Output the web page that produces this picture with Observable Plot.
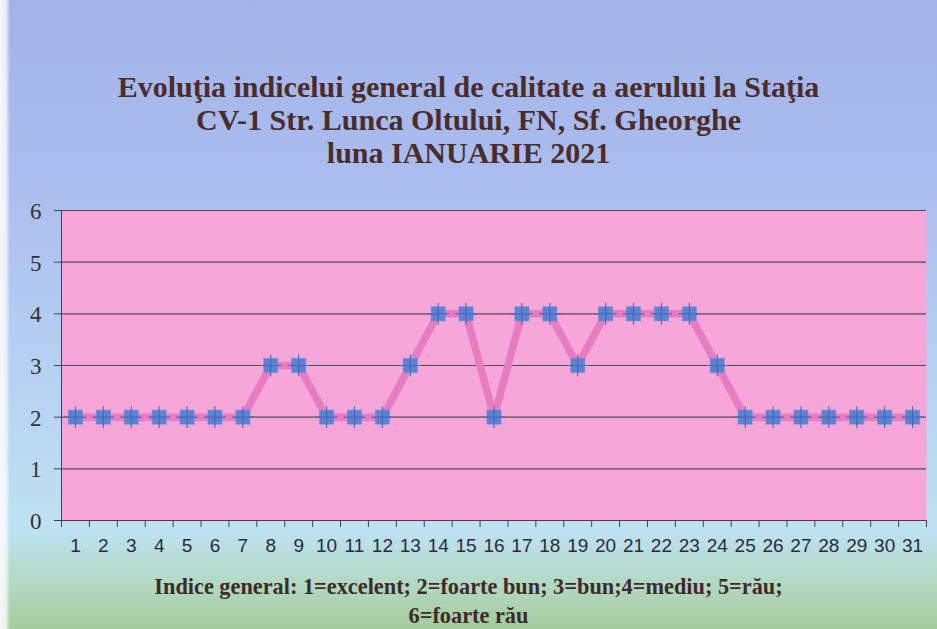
<!DOCTYPE html>
<html>
<head>
<meta charset="utf-8">
<script src="https://cdn.jsdelivr.net/npm/d3@7"></script>
<script src="https://cdn.jsdelivr.net/npm/@observablehq/plot@0.6"></script>
<style>
  html, body { margin: 0; padding: 0; }
  body { width: 937px; height: 629px; overflow: hidden; }
  #wrap {
    position: relative; width: 937px; height: 629px;
    background: linear-gradient(to bottom, #a3b2e8 0%, #abbeee 30%, #b6d2f2 60%, #bfe2f2 84%, #b2d8c2 93%, #a5cc9c 100%);
  }
  #edge {
    position: absolute; top: 0; left: 0; width: 10px; height: 629px;
    background: linear-gradient(to right, rgba(250,250,252,0.95) 0%, rgba(250,250,252,0.8) 60%, rgba(250,250,252,0) 100%);
  }
  #title {
    position: absolute; top: 70px; left: 0; width: 937px; text-align: center;
    font-family: "Liberation Serif", "Times New Roman", serif; font-weight: bold;
    font-size: 30px; line-height: 33px; color: #4a2c2c;
  }
  #chart { position: absolute; top: 195px; left: 0; }
  #caption {
    position: absolute; top: 572px; left: 0; width: 937px; text-align: center;
    font-family: "Liberation Serif", "Times New Roman", serif; font-weight: bold;
    font-size: 22.3px; line-height: 29px; color: #3e2a2a;
  }
</style>
</head>
<body>
<div id="wrap">
  <div id="edge"></div>
  <div id="title">Evoluţia indicelui general de calitate a aerului la Staţia<br>CV-1 Str. Lunca Oltului, FN, Sf. Gheorghe<br>luna IANUARIE 2021</div>
  <div id="chart"></div>
  <div id="caption">Indice general: 1=excelent; 2=foarte bun; 3=bun;4=mediu; 5=rău;<br>6=foarte rău</div>
</div>
<script>
const days = [1,2,3,4,5,6,7,8,9,10,11,12,13,14,15,16,17,18,19,20,21,22,23,24,25,26,27,28,29,30,31];
const indexValues = [2,2,2,2,2,2,2,3,3,2,2,2,3,4,4,2,4,4,3,4,4,4,4,3,2,2,2,2,2,2,2];
const yTicks = [0,1,2,3,4,5,6];

const data = days.map((d, i) => ({day: d, value: indexValues[i]}));
const boundaries = [0, ...days].map(d => d + 0.5);

const plot = Plot.plot({
  width: 937,
  height: 370,
  marginLeft: 61,
  marginRight: 11,
  marginTop: 15,
  marginBottom: 45,
  style: {background: "transparent", overflow: "visible"},
  x: {domain: [0.5, 31.5], axis: null},
  y: {domain: [0, 6], axis: null},
  marks: [
    Plot.frame({fill: "#f6a6d8", stroke: null}),
    Plot.gridY(yTicks, {stroke: "#4a4040", strokeOpacity: 0.9, strokeWidth: 1.2}),
    Plot.ruleX([0.5], {stroke: "#4a4040", strokeWidth: 1}),
    Plot.ruleY([0], {stroke: "#4a4040", strokeWidth: 1.2}),
    Plot.axisY(yTicks, {tickSize: 7, tickFormat: () => "", stroke: "#4a4040", label: null}),
    Plot.axisX(boundaries, {tickSize: 7, tickFormat: () => "", stroke: "#4a4040", label: null}),
    Plot.text(yTicks, {
      x: 0.5, y: d => d, text: d => String(d), dx: -20, dy: 1, textAnchor: "end",
      fontSize: 23, fontFamily: "Liberation Serif, Times New Roman, serif", fill: "#333"
    }),
    Plot.text(days, {
      x: d => d, y: 0, text: d => String(d), dy: 25,
      fontSize: 19, fontFamily: "Liberation Sans Narrow, Arial Narrow, Liberation Sans, sans-serif", fill: "#2a2a40"
    }),
    Plot.line(data, {x: "day", y: "value", stroke: "#e87cc2", strokeWidth: 7.5}),
    Plot.dot(data, {x: "day", y: "value", symbol: "square", r: 8, fill: "#5c82d2", stroke: "#6a8fdc", strokeWidth: 0.5}),
    Plot.dot(data, {x: "day", y: "value", symbol: "plus", r: 7, stroke: "#4568b8", strokeWidth: 1.1})
  ]
});
document.getElementById("chart").appendChild(plot);
</script>
</body>
</html>
